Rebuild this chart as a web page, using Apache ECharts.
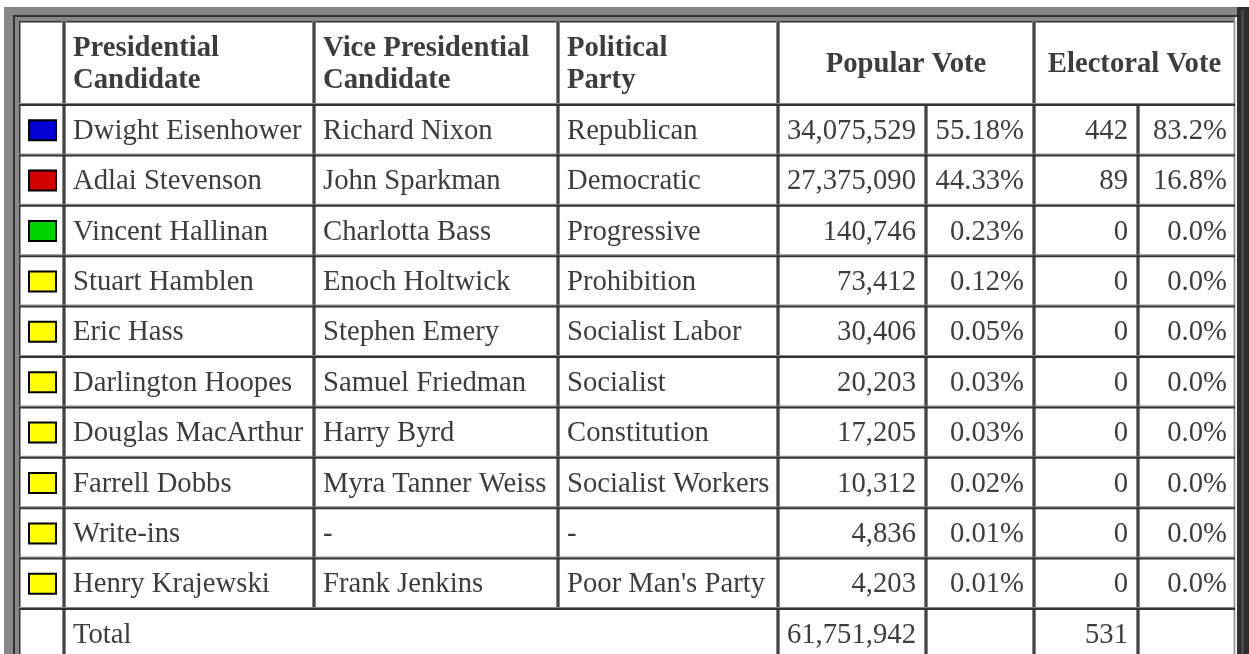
<!DOCTYPE html>
<html><head><meta charset="utf-8">
<script src="https://cdn.jsdelivr.net/npm/echarts@6/dist/echarts.min.js"></script>
<style>html,body{margin:0;padding:0;background:#fff;overflow:hidden}#c{width:1249px;height:654px}</style>
</head><body><div id="c"></div>
<script>
// ---- data ----
const headers = ['Presidential\nCandidate', 'Vice Presidential\nCandidate', 'Political\nParty', 'Popular Vote', 'Electoral Vote'];
const presidentialCandidates = ['Dwight Eisenhower', 'Adlai Stevenson', 'Vincent Hallinan', 'Stuart Hamblen', 'Eric Hass', 'Darlington Hoopes', 'Douglas MacArthur', 'Farrell Dobbs', 'Write-ins', 'Henry Krajewski'];
const viceCandidates = ['Richard Nixon', 'John Sparkman', 'Charlotta Bass', 'Enoch Holtwick', 'Stephen Emery', 'Samuel Friedman', 'Harry Byrd', 'Myra Tanner Weiss', '-', 'Frank Jenkins'];
const parties = ['Republican', 'Democratic', 'Progressive', 'Prohibition', 'Socialist Labor', 'Socialist', 'Constitution', 'Socialist Workers', '-', "Poor Man's Party"];
const popularVotes = [34075529, 27375090, 140746, 73412, 30406, 20203, 17205, 10312, 4836, 4203];
const popularPct = [55.18, 44.33, 0.23, 0.12, 0.05, 0.03, 0.03, 0.02, 0.01, 0.01];
const electoralVotes = [442, 89, 0, 0, 0, 0, 0, 0, 0, 0];
const electoralPct = [83.2, 16.8, 0.0, 0.0, 0.0, 0.0, 0.0, 0.0, 0.0, 0.0];
const swatchColors = ['#0000d4', '#d40000', '#00d400', '#ffff00', '#ffff00', '#ffff00', '#ffff00', '#ffff00', '#ffff00', '#ffff00'];
const totalLabel = 'Total';
const totalPopular = 61751942;
const totalElectoral = 531;

// ---- layout ----
const W = 1249, H = 654;
const colEdges = [19, 64, 314, 558, 778, 926, 1034, 1138, 1235];
const rowH = 50.4, firstRowTop = 104.5, headerTop = 21;
const FONT = '"Liberation Serif", "Times New Roman", serif';
const FS = 28.7;
const TXT = '#3d3d3d';
const DARK = '#333333', GRAY = '#878787';
const nRows = presidentialCandidates.length;

const fmt = n => n.toLocaleString('en-US');

const chart = echarts.init(document.getElementById('c'), null, {renderer: 'canvas'});

function txt(x, y, s, align, bold) {
  return {type: 'text', style: {x: x, y: y, text: s, align: align, verticalAlign: 'middle',
    textAlign: align, textVerticalAlign: 'middle',
    fontFamily: FONT, fontSize: FS, fontWeight: bold ? 'bold' : 'normal', lineHeight: 32, fill: TXT}};
}
function vsep(x, y0, y1) {
  return [
    {type: 'rect', shape: {x: x - 2, y: y0, width: 4, height: y1 - y0}, style: {fill: GRAY}},
    {type: 'rect', shape: {x: x - 0.8, y: y0, width: 1.6, height: y1 - y0}, style: {fill: DARK}}
  ];
}

const bodyData = presidentialCandidates.map((_, i) => [i]);

const option = {
  animation: false,
  grid: {left: 0, right: 0, top: 0, bottom: 0, containLabel: false},
  xAxis: {type: 'value', min: 0, max: W, show: false},
  yAxis: {type: 'value', inverse: true, min: -firstRowTop / rowH, max: (H - firstRowTop) / rowH, show: false},
  series: [
    // frame + header
    {
      type: 'custom', data: [[0]], silent: true, z: 1,
      renderItem: function (params, api) {
        const topY = api.coord([0, -(firstRowTop - headerTop) / rowH])[1];
        const botY = api.coord([0, nRows + 1])[1];
        const hdrBot = api.coord([0, 0])[1];
        const xs = colEdges.map(c => api.coord([c, 0])[0]);
        const ch = [];
        // outer bevel (outset): light top/left, dark right
        ch.push({type: 'rect', shape: {x: 4, y: 7, width: xs[8] + 2 - 4, height: 8}, style: {fill: GRAY}});
        ch.push({type: 'rect', shape: {x: 4, y: 7, width: 9, height: H}, style: {fill: GRAY}});
        ch.push({type: 'polygon', shape: {points: [[xs[8] + 2, 7], [1249, 7], [1249, H], [xs[8] + 2, H], [xs[8] + 2, 15]]}, style: {fill: '#2e2e2e'}});
        ch.push({type: 'rect', shape: {x: 1241, y: 10, width: 3, height: H}, style: {fill: '#474747'}});
        ch.push({type: 'rect', shape: {x: 13, y: 15, width: xs[8] - 11, height: 2}, style: {fill: DARK}});
        ch.push({type: 'rect', shape: {x: 13, y: 15, width: 2, height: H}, style: {fill: DARK}});
        ch.push({type: 'rect', shape: {x: 15, y: 17, width: xs[8] - 15, height: topY - 17}, style: {fill: GRAY}});
        ch.push({type: 'rect', shape: {x: 15, y: 17, width: xs[0] - 15, height: H}, style: {fill: GRAY}});
        // white cell area
        ch.push({type: 'rect', shape: {x: xs[0], y: topY, width: xs[8] - xs[0], height: botY - topY}, style: {fill: '#ffffff'}});
        // cell inner border top/left dark
        ch.push({type: 'rect', shape: {x: xs[0], y: topY, width: xs[8] - xs[0], height: 1.5}, style: {fill: DARK}});
        ch.push({type: 'rect', shape: {x: xs[0], y: topY, width: 1.5, height: H}, style: {fill: DARK}});
        ch.push({type: 'rect', shape: {x: xs[8] - 1.5, y: topY, width: 2, height: H}, style: {fill: '#9a9a9a'}});
        // header separators
        [1, 2, 3, 4, 6].forEach(k => vsep(xs[k], topY, hdrBot).forEach(e => ch.push(e)));
        // header texts
        const hMid = (topY + hdrBot) / 2 + 2;
        ch.push(txt(xs[1] + 9, hMid, headers[0], 'left', true));
        ch.push(txt(xs[2] + 9, hMid, headers[1], 'left', true));
        ch.push(txt(xs[3] + 9, hMid, headers[2], 'left', true));
        ch.push(txt((xs[4] + xs[6]) / 2, hMid, headers[3], 'center', true));
        ch.push(txt((xs[6] + xs[8]) / 2, hMid, headers[4], 'center', true));
        return {type: 'group', children: ch};
      }
    },
    // body rows
    {
      type: 'custom', data: bodyData, silent: true, z: 2,
      renderItem: function (params, api) {
        const i = api.value(0);
        const y0 = api.coord([0, i])[1];
        const y1 = api.coord([0, i + 1])[1];
        const mid = (y0 + y1) / 2 + 1.5;
        const xs = colEdges.map(c => api.coord([c, 0])[0]);
        const ch = [];
        for (let k = 1; k < 8; k++) vsep(xs[k], y0, y1).forEach(e => ch.push(e));
        ch.push({type: 'rect', shape: {x: xs[0], y: y0 - 1.5, width: xs[8] - xs[0], height: 1}, style: {fill: GRAY}});
        ch.push({type: 'rect', shape: {x: xs[0], y: y0 - 0.5, width: xs[8] - xs[0], height: 2}, style: {fill: DARK}});
        // swatch
        const sx = (xs[0] + xs[1]) / 2 + 1;
        ch.push({type: 'rect', shape: {x: sx - 13.5, y: mid - 11, width: 27, height: 20}, style: {fill: swatchColors[i], stroke: '#000', lineWidth: 2}});
        ch.push(txt(xs[1] + 9, mid, presidentialCandidates[i], 'left'));
        ch.push(txt(xs[2] + 9, mid, viceCandidates[i], 'left'));
        ch.push(txt(xs[3] + 9, mid, parties[i], 'left'));
        ch.push(txt(xs[5] - 10, mid, fmt(popularVotes[i]), 'right'));
        ch.push(txt(xs[6] - 10, mid, popularPct[i].toFixed(2) + '%', 'right'));
        ch.push(txt(xs[7] - 10, mid, String(electoralVotes[i]), 'right'));
        ch.push(txt(xs[8] - 8, mid, electoralPct[i].toFixed(1) + '%', 'right'));
        return {type: 'group', children: ch};
      }
    },
    // total row
    {
      type: 'custom', data: [[nRows]], silent: true, z: 3,
      renderItem: function (params, api) {
        const i = api.value(0);
        const y0 = api.coord([0, i])[1];
        const y1 = api.coord([0, i + 1])[1];
        const mid = (y0 + y1) / 2 + 1.5;
        const xs = colEdges.map(c => api.coord([c, 0])[0]);
        const ch = [];
        [1, 4, 5, 6, 7].forEach(k => vsep(xs[k], y0, y1).forEach(e => ch.push(e)));
        ch.push({type: 'rect', shape: {x: xs[0], y: y0 - 1.5, width: xs[8] - xs[0], height: 1}, style: {fill: GRAY}});
        ch.push({type: 'rect', shape: {x: xs[0], y: y0 - 0.5, width: xs[8] - xs[0], height: 2}, style: {fill: DARK}});
        ch.push(txt(xs[1] + 9, mid, totalLabel, 'left'));
        ch.push(txt(xs[5] - 10, mid, fmt(totalPopular), 'right'));
        ch.push(txt(xs[7] - 10, mid, String(totalElectoral), 'right'));
        return {type: 'group', children: ch};
      }
    }
  ]
};
chart.setOption(option);
</script>
</body></html>
